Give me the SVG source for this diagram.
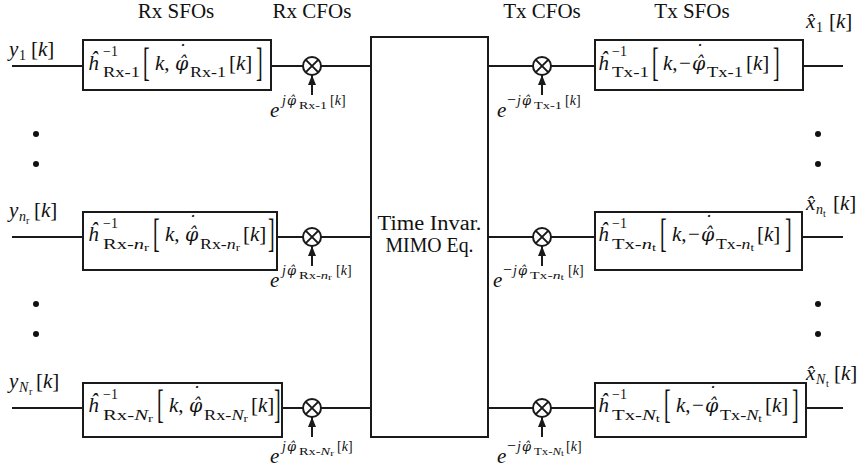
<svg xmlns="http://www.w3.org/2000/svg" width="864" height="474" viewBox="0 0 864 474">
<defs>
<style>
text { font-family: "Liberation Serif", "Times New Roman", serif; fill: #111; }
.m { font-size: 21px; }
.i { font-style: italic; }
.s { font-size: 14px; }
.ss { font-size: 10px; }
.sss { font-size: 8px; }
.big { font-size: 40px; }
.hd { font-size: 21px; text-anchor: middle; }
.mn { font-size: 16px; }
.ph { font-family: "DejaVu Serif", serif; font-style: italic; font-size: 19px; }
.ph2 { font-family: "DejaVu Serif", serif; font-style: italic; font-size: 13px; }
.ctr { text-anchor: middle; }
.ln { stroke: #1a1a1a; stroke-width: 2; fill: none; }
.box { fill: #fff; stroke: #1a1a1a; stroke-width: 2; }
.mul { fill: #fff; stroke: #1a1a1a; stroke-width: 2; }
.dot { fill: #111; }
</style>
<marker id="arr" markerUnits="userSpaceOnUse" markerWidth="10" markerHeight="8" refX="10" refY="4" orient="auto">
<path d="M0,0 L10,4 L0,8 z" fill="#1a1a1a"/>
</marker>
<g id="mulx">
<circle class="mul" cx="0" cy="0" r="9"/>
<path class="ln" d="M-6.4,-6.4 L6.4,6.4 M-6.4,6.4 L6.4,-6.4"/>
</g>
</defs>

<g id="headers">
<text class="hd" x="176" y="18">Rx SFOs</text>
<text class="hd" x="312" y="18">Rx CFOs</text>
<text class="hd" x="542" y="18">Tx CFOs</text>
<text class="hd" x="692" y="18">Tx SFOs</text>
</g>

<g id="connectors">
<line class="ln" x1="12" y1="66" x2="83" y2="66"/>
<line class="ln" x1="271" y1="66" x2="303" y2="66"/>
<line class="ln" x1="321" y1="66" x2="371" y2="66"/>
<line class="ln" x1="488" y1="66" x2="533" y2="66"/>
<line class="ln" x1="551" y1="66" x2="595" y2="66"/>
<line class="ln" x1="803" y1="66" x2="843" y2="66"/>
<line class="ln" x1="312" y1="95" x2="312" y2="75" marker-end="url(#arr)"/>
<line class="ln" x1="542" y1="95" x2="542" y2="75" marker-end="url(#arr)"/>

<line class="ln" x1="12" y1="237" x2="83" y2="237"/>
<line class="ln" x1="277" y1="237" x2="303" y2="237"/>
<line class="ln" x1="321" y1="237" x2="371" y2="237"/>
<line class="ln" x1="488" y1="237" x2="533" y2="237"/>
<line class="ln" x1="551" y1="237" x2="595" y2="237"/>
<line class="ln" x1="802" y1="237" x2="843" y2="237"/>
<line class="ln" x1="312" y1="266" x2="312" y2="246" marker-end="url(#arr)"/>
<line class="ln" x1="542" y1="266" x2="542" y2="246" marker-end="url(#arr)"/>

<line class="ln" x1="12" y1="408" x2="83" y2="408"/>
<line class="ln" x1="282" y1="408" x2="303" y2="408"/>
<line class="ln" x1="321" y1="408" x2="371" y2="408"/>
<line class="ln" x1="488" y1="408" x2="533" y2="408"/>
<line class="ln" x1="551" y1="408" x2="595" y2="408"/>
<line class="ln" x1="806" y1="408" x2="843" y2="408"/>
<line class="ln" x1="312" y1="437" x2="312" y2="417" marker-end="url(#arr)"/>
<line class="ln" x1="542" y1="437" x2="542" y2="417" marker-end="url(#arr)"/>
</g>

<g id="dots">
<circle class="dot" cx="36" cy="134" r="3"/>
<circle class="dot" cx="36" cy="164" r="3"/>
<circle class="dot" cx="36" cy="304" r="3"/>
<circle class="dot" cx="36" cy="334" r="3"/>
<circle class="dot" cx="818" cy="134" r="3"/>
<circle class="dot" cx="818" cy="164" r="3"/>
<circle class="dot" cx="818" cy="304" r="3"/>
<circle class="dot" cx="818" cy="334" r="3"/>
</g>

<g id="in-1">
<text class="m" y="56"><tspan class="i" x="9">y</tspan><tspan class="s" x="19" y="60">1</tspan><tspan x="31" y="56">[</tspan><tspan class="i">k</tspan><tspan>]</tspan></text>
</g>
<g id="in-nr">
<text class="m" y="217"><tspan class="i" x="9">y</tspan><tspan class="s i" x="19" y="221">n</tspan><tspan class="ss" x="26" y="224">r</tspan><tspan x="34" y="217">[</tspan><tspan class="i">k</tspan><tspan>]</tspan></text>
</g>
<g id="in-Nr">
<text class="m" y="388"><tspan class="i" x="9">y</tspan><tspan class="s i" x="19" y="392">N</tspan><tspan class="ss" x="29" y="395">r</tspan><tspan x="36" y="388">[</tspan><tspan class="i">k</tspan><tspan>]</tspan></text>
</g>

<g id="rx-sfo-1">
<rect class="box" x="83" y="40" width="188" height="50"/>
<text class="m" y="70"><tspan class="i" x="88">ĥ</tspan><tspan class="s" x="103" y="56">−1</tspan><tspan class="s" x="103" y="77" textLength="37" lengthAdjust="spacingAndGlyphs">Rx-1</tspan><tspan class="i" x="155" y="70">k</tspan><tspan>,</tspan><tspan class="ph" x="176.5 175" y="58 70">&#x2D9;&#x3C6;&#x302;</tspan><tspan class="s" x="190" y="77" textLength="36" lengthAdjust="spacingAndGlyphs">Rx-1</tspan><tspan x="229" y="70">[</tspan><tspan class="i">k</tspan><tspan>]</tspan></text>
<text class="big" transform="translate(143,76) scale(0.5,1)">[</text>
<text class="big" transform="translate(256,76) scale(0.5,1)">]</text>
</g>
<g id="rx-sfo-nr">
<rect class="box" x="83" y="212" width="194" height="58"/>
<text class="m" y="241"><tspan class="i" x="88">ĥ</tspan><tspan class="s" x="103" y="228">−1</tspan><tspan class="s" x="103" y="249" textLength="46" lengthAdjust="spacingAndGlyphs">Rx-<tspan class="i">n</tspan><tspan class="ss" dy="2">r</tspan></tspan><tspan class="i" x="165" y="241">k</tspan><tspan>,</tspan><tspan class="ph" x="186.5 185" y="229 241">&#x2D9;&#x3C6;&#x302;</tspan><tspan class="s" x="200" y="249" textLength="40" lengthAdjust="spacingAndGlyphs">Rx-<tspan class="i">n</tspan><tspan class="ss" dy="2">r</tspan></tspan><tspan x="243" y="241">[</tspan><tspan class="i">k</tspan><tspan>]</tspan></text>
<text class="big" transform="translate(153,247) scale(0.5,1)">[</text>
<text class="big" transform="translate(268,247) scale(0.5,1)">]</text>
</g>
<g id="rx-sfo-Nr">
<rect class="box" x="83" y="383" width="199" height="54"/>
<text class="m" y="412"><tspan class="i" x="88">ĥ</tspan><tspan class="s" x="103" y="399">−1</tspan><tspan class="s" x="103" y="420" textLength="50" lengthAdjust="spacingAndGlyphs">Rx-<tspan class="i">N</tspan><tspan class="ss" dy="2">r</tspan></tspan><tspan class="i" x="169" y="412">k</tspan><tspan>,</tspan><tspan class="ph" x="190.5 189" y="400 412">&#x2D9;&#x3C6;&#x302;</tspan><tspan class="s" x="204" y="420" textLength="44" lengthAdjust="spacingAndGlyphs">Rx-<tspan class="i">N</tspan><tspan class="ss" dy="2">r</tspan></tspan><tspan x="251" y="412">[</tspan><tspan class="i">k</tspan><tspan>]</tspan></text>
<text class="big" transform="translate(157,418) scale(0.5,1)">[</text>
<text class="big" transform="translate(274,418) scale(0.5,1)">]</text>
</g>

<g id="rx-cfo-1">
<use href="#mulx" x="312" y="66"/>
<text class="m" y="117"><tspan class="i" x="270">e</tspan><tspan class="s i" x="282" y="105">j</tspan><tspan class="ph2" x="287" y="105">&#x3C6;&#x302;</tspan><tspan class="ss" x="299" y="109" textLength="28" lengthAdjust="spacingAndGlyphs">Rx-1</tspan><tspan class="s" x="330" y="105">[</tspan><tspan class="s i">k</tspan><tspan class="s">]</tspan></text>
</g>
<g id="rx-cfo-nr">
<use href="#mulx" x="312" y="237"/>
<text class="m" y="287"><tspan class="i" x="270">e</tspan><tspan class="s i" x="282" y="275">j</tspan><tspan class="ph2" x="287" y="275">&#x3C6;&#x302;</tspan><tspan class="ss" x="299" y="279" textLength="33" lengthAdjust="spacingAndGlyphs">Rx-<tspan class="i">n</tspan><tspan class="sss" dy="1">r</tspan></tspan><tspan class="s" x="336" y="275">[</tspan><tspan class="s i">k</tspan><tspan class="s">]</tspan></text>
</g>
<g id="rx-cfo-Nr">
<use href="#mulx" x="312" y="408"/>
<text class="m" y="463"><tspan class="i" x="270">e</tspan><tspan class="s i" x="282" y="451">j</tspan><tspan class="ph2" x="287" y="451">&#x3C6;&#x302;</tspan><tspan class="ss" x="299" y="455" textLength="35" lengthAdjust="spacingAndGlyphs">Rx-<tspan class="i">N</tspan><tspan class="sss" dy="1">r</tspan></tspan><tspan class="s" x="337" y="451">[</tspan><tspan class="s i">k</tspan><tspan class="s">]</tspan></text>
</g>

<g id="mimo">
<rect class="box" x="371" y="37" width="117" height="400"/>
<text class="ctr" x="429.5" y="230" font-size="20" textLength="104" lengthAdjust="spacingAndGlyphs">Time Invar.</text>
<text class="ctr" x="429.5" y="252" font-size="20" textLength="88" lengthAdjust="spacingAndGlyphs">MIMO Eq.</text>
</g>

<g id="tx-cfo-1">
<use href="#mulx" x="542" y="66"/>
<text class="m" y="117"><tspan class="i" x="497">e</tspan><tspan class="mn" x="507" y="105">−</tspan><tspan class="s i" x="517" y="105">j</tspan><tspan class="ph2" x="522" y="105">&#x3C6;&#x302;</tspan><tspan class="ss" x="534" y="109" textLength="28" lengthAdjust="spacingAndGlyphs">Tx-1</tspan><tspan class="s" x="565" y="105">[</tspan><tspan class="s i">k</tspan><tspan class="s">]</tspan></text>
</g>
<g id="tx-cfo-nt">
<use href="#mulx" x="542" y="237"/>
<text class="m" y="287"><tspan class="i" x="493">e</tspan><tspan class="mn" x="503" y="275">−</tspan><tspan class="s i" x="513" y="275">j</tspan><tspan class="ph2" x="518" y="275">&#x3C6;&#x302;</tspan><tspan class="ss" x="530" y="279" textLength="34" lengthAdjust="spacingAndGlyphs">Tx-<tspan class="i">n</tspan><tspan class="sss" dy="1">t</tspan></tspan><tspan class="s" x="568" y="275">[</tspan><tspan class="s i">k</tspan><tspan class="s">]</tspan></text>
</g>
<g id="tx-cfo-Nt">
<use href="#mulx" x="542" y="408"/>
<text class="m" y="463"><tspan class="i" x="497">e</tspan><tspan class="mn" x="507" y="451">−</tspan><tspan class="s i" x="517" y="451">j</tspan><tspan class="ph2" x="522" y="451">&#x3C6;&#x302;</tspan><tspan class="ss" x="534" y="455" textLength="30" lengthAdjust="spacingAndGlyphs">Tx-<tspan class="i">N</tspan><tspan class="sss" dy="1">t</tspan></tspan><tspan class="s" x="566" y="451">[</tspan><tspan class="s i">k</tspan><tspan class="s">]</tspan></text>
</g>

<g id="tx-sfo-1">
<rect class="box" x="595" y="40" width="208" height="50"/>
<text class="m" y="70"><tspan class="i" x="598">ĥ</tspan><tspan class="s" x="612" y="56">−1</tspan><tspan class="s" x="612" y="77" textLength="37" lengthAdjust="spacingAndGlyphs">Tx-1</tspan><tspan class="i" x="663" y="70">k</tspan><tspan>,</tspan><tspan x="679" y="70">−</tspan><tspan class="ph" x="693.5 692" y="58 70">&#x2D9;&#x3C6;&#x302;</tspan><tspan class="s" x="707" y="77" textLength="36" lengthAdjust="spacingAndGlyphs">Tx-1</tspan><tspan x="746" y="70">[</tspan><tspan class="i">k</tspan><tspan>]</tspan></text>
<text class="big" transform="translate(652,76) scale(0.5,1)">[</text>
<text class="big" transform="translate(773,76) scale(0.5,1)">]</text>
</g>
<g id="tx-sfo-nt">
<rect class="box" x="595" y="212" width="207" height="58"/>
<text class="m" y="241"><tspan class="i" x="598">ĥ</tspan><tspan class="s" x="612" y="228">−1</tspan><tspan class="s" x="612" y="249" textLength="44" lengthAdjust="spacingAndGlyphs">Tx-<tspan class="i">n</tspan><tspan class="ss" dy="2">t</tspan></tspan><tspan class="i" x="672" y="241">k</tspan><tspan>,</tspan><tspan x="688" y="241">−</tspan><tspan class="ph" x="702.5 701" y="229 241">&#x2D9;&#x3C6;&#x302;</tspan><tspan class="s" x="716" y="249" textLength="38" lengthAdjust="spacingAndGlyphs">Tx-<tspan class="i">n</tspan><tspan class="ss" dy="2">t</tspan></tspan><tspan x="757" y="241">[</tspan><tspan class="i">k</tspan><tspan>]</tspan></text>
<text class="big" transform="translate(660,247) scale(0.5,1)">[</text>
<text class="big" transform="translate(785,247) scale(0.5,1)">]</text>
</g>
<g id="tx-sfo-Nt">
<rect class="box" x="595" y="383" width="211" height="54"/>
<text class="m" y="412"><tspan class="i" x="598">ĥ</tspan><tspan class="s" x="612" y="399">−1</tspan><tspan class="s" x="612" y="420" textLength="48" lengthAdjust="spacingAndGlyphs">Tx-<tspan class="i">N</tspan><tspan class="ss" dy="2">t</tspan></tspan><tspan class="i" x="676" y="412">k</tspan><tspan>,</tspan><tspan x="692" y="412">−</tspan><tspan class="ph" x="706.5 705" y="400 412">&#x2D9;&#x3C6;&#x302;</tspan><tspan class="s" x="720" y="420" textLength="42" lengthAdjust="spacingAndGlyphs">Tx-<tspan class="i">N</tspan><tspan class="ss" dy="2">t</tspan></tspan><tspan x="765" y="412">[</tspan><tspan class="i">k</tspan><tspan>]</tspan></text>
<text class="big" transform="translate(664,418) scale(0.5,1)">[</text>
<text class="big" transform="translate(792,418) scale(0.5,1)">]</text>
</g>

<g id="out-1">
<text class="m" y="28"><tspan class="i" x="806">x&#x302;</tspan><tspan class="s" x="816" y="32">1</tspan><tspan x="829" y="28">[</tspan><tspan class="i">k</tspan><tspan>]</tspan></text>
</g>
<g id="out-nt">
<text class="m" y="210"><tspan class="i" x="806">x&#x302;</tspan><tspan class="s i" x="816" y="214">n</tspan><tspan class="ss" x="823" y="217">t</tspan><tspan x="833" y="210">[</tspan><tspan class="i">k</tspan><tspan>]</tspan></text>
</g>
<g id="out-Nt">
<text class="m" y="380"><tspan class="i" x="806">x&#x302;</tspan><tspan class="s i" x="816" y="384">N</tspan><tspan class="ss" x="826" y="387">t</tspan><tspan x="834" y="380">[</tspan><tspan class="i">k</tspan><tspan>]</tspan></text>
</g>
</svg>
